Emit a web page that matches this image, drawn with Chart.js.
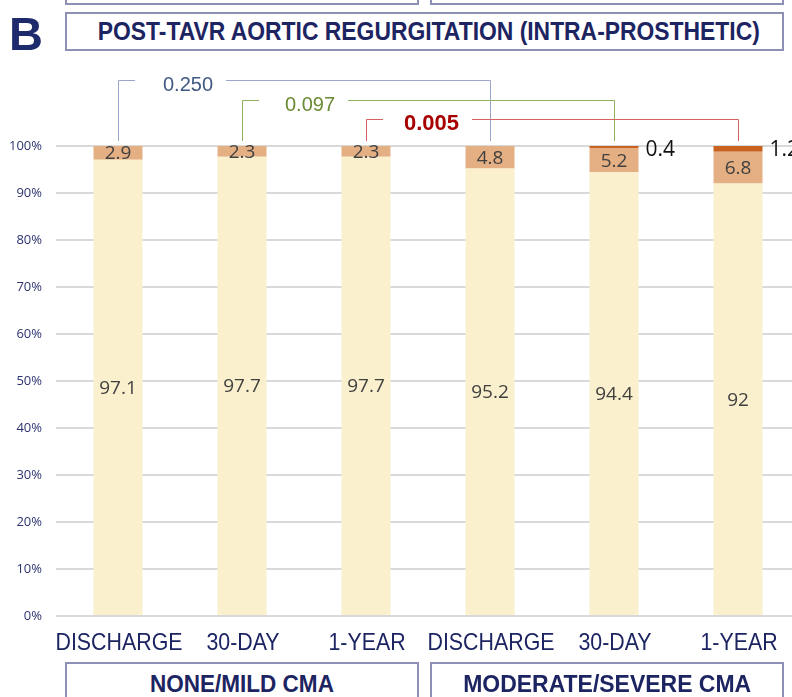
<!DOCTYPE html>
<html>
<head>
<meta charset="utf-8">
<script src="https://cdn.jsdelivr.net/npm/chart.js@4.4.1/dist/chart.umd.min.js"></script>
<style>
  html, body { margin: 0; padding: 0; width: 792px; height: 697px; overflow: hidden; background: #fff; }
  #wrap { position: relative; width: 792px; height: 697px; overflow: hidden; }
  #chartBox { position: absolute; left: 0; top: 0; width: 810px; height: 697px; }
  .box { position: absolute; border: 2px solid #8c91b3; box-sizing: border-box; background: #fff;
         color: #1d2462; font-family: "Liberation Sans", Arial, sans-serif;
         font-weight: bold; text-align: center; white-space: nowrap; overflow: hidden; }
  .box span { display: inline-block; transform-origin: center center; }
  #letter { position: absolute; left: 9px; top: 10px; font-family: "Liberation Sans", Arial, sans-serif;
            font-weight: bold; font-size: 47px; color: #1d2a6c; line-height: 47px; }
</style>
</head>
<body>
<div id="wrap">
  <div id="chartBox"><canvas id="arChart"></canvas></div>
  <div class="box" style="left:65px; top:-30px; width:354px; height:35px;"></div>
  <div class="box" style="left:430px; top:-30px; width:354px; height:35px;"></div>
  <div id="letter">B</div>
  <div class="box" style="left:65px; top:12px; width:719px; height:39px; font-size:25px; line-height:35px;"><span id="title"></span></div>
  <div class="box" style="left:65px; top:662px; width:354px; height:50px; font-size:23px; line-height:40px;"><span id="grp0"></span></div>
  <div class="box" style="left:430px; top:662px; width:354px; height:50px; font-size:23px; line-height:40px;"><span id="grp1"></span></div>
</div>
<script>
// data
const chartTitle = 'POST-TAVR AORTIC REGURGITATION (INTRA-PROSTHETIC)';
const categories = ['DISCHARGE', '30-DAY', '1-YEAR', 'DISCHARGE', '30-DAY', '1-YEAR'];
const groups = ['NONE/MILD CMA', 'MODERATE/SEVERE CMA'];
const noneTrace = [97.1, 97.7, 97.7, 95.2, 94.4, 92];
const mild = [2.9, 2.3, 2.3, 4.8, 5.2, 6.8];
const moderate = [0, 0, 0, 0, 0.4, 1.2];
const yTicks = [0, 10, 20, 30, 40, 50, 60, 70, 80, 90, 100];
const pValues = ['0.250', '0.097', '0.005'];
const pPairs = [[0, 3], [1, 4], [2, 5]];

// squeeze the bold header texts like a narrow font
function fitText(id, text, width) {
    const el = document.getElementById(id);
    el.textContent = text;
    const w = el.getBoundingClientRect().width;
    el.style.transform = 'scaleX(' + (width / w) + ')';
}
fitText('title', chartTitle, 662);
fitText('grp0', groups[0], 184);
fitText('grp1', groups[1], 288);

const NARROW = 0.89;

// category labels, drawn condensed
const xLabels = {
    id: 'xLabels',
    afterDraw(chart) {
        const ctx = chart.ctx;
        const xs = chart.scales.x;
        ctx.save();
        ctx.font = '24px "Liberation Sans", Arial, sans-serif';
        ctx.fillStyle = '#1d2462';
        ctx.textAlign = 'center';
        ctx.textBaseline = 'middle';
        chart.data.labels.forEach((lab, i) => {
            const x = xs.getPixelForValue(i) + 1;
            ctx.save();
            ctx.translate(x, 643);
            ctx.scale(NARROW, 1);
            ctx.fillText(lab, 0, 0);
            ctx.restore();
        });
        ctx.restore();
    }
};

// labels inside / beside the bars
const barLabels = {
    id: 'barLabels',
    afterDatasetsDraw(chart) {
        const ctx = chart.ctx;
        ctx.save();
        chart.data.datasets.forEach((ds, di) => {
            const meta = chart.getDatasetMeta(di);
            meta.data.forEach((bar, i) => {
                const v = ds.data[i];
                if (!v) return;
                if (di < 2) {
                    ctx.font = '19px "Open Sans", sans-serif';
                    ctx.fillStyle = '#404040';
                    ctx.textAlign = 'center';
                    ctx.textBaseline = 'middle';
                    ctx.fillText(String(v), bar.x, (bar.y + bar.base) / 2 + 1);
                } else {
                    ctx.font = '21px "Open Sans", sans-serif';
                    ctx.fillStyle = '#111';
                    ctx.textAlign = 'left';
                    ctx.textBaseline = 'middle';
                    ctx.fillText(String(v), bar.x + bar.width / 2 + 7, 150);
                }
            });
        });
        ctx.restore();
    }
};

// p-value brackets between time points
const bracketStyles = [
    { line: '#9aa6cc', text: '#3f5a82', font: '20px "Liberation Sans", Arial, sans-serif', y: 80, off: 45 },
    { line: '#8fb25e', text: '#6a8a34', font: '20px "Liberation Sans", Arial, sans-serif', y: 100, off: 43 },
    { line: '#d66262', text: '#a80000', font: 'bold 22px "Liberation Sans", Arial, sans-serif', y: 119, off: 38 }
];
const pBrackets = {
    id: 'pBrackets',
    afterDraw(chart) {
        const ctx = chart.ctx;
        const xs = chart.scales.x;
        const bottomY = 141;
        ctx.save();
        pPairs.forEach((pair, k) => {
            const st = bracketStyles[k];
            const x1 = xs.getPixelForValue(pair[0]);
            const x2 = xs.getPixelForValue(pair[1]);
            ctx.font = st.font;
            const tx = x1 + st.off;
            const tw = ctx.measureText(pValues[k]).width;
            ctx.strokeStyle = st.line;
            ctx.lineWidth = 1;
            ctx.beginPath();
            ctx.moveTo(x1 + 0.5, bottomY);
            ctx.lineTo(x1 + 0.5, st.y + 0.5);
            ctx.lineTo(x1 + 17, st.y + 0.5);
            ctx.moveTo(tx + tw + 13, st.y + 0.5);
            ctx.lineTo(x2 + 0.5, st.y + 0.5);
            ctx.lineTo(x2 + 0.5, bottomY);
            ctx.stroke();
            ctx.fillStyle = st.text;
            ctx.textAlign = 'left';
            ctx.textBaseline = 'middle';
            ctx.fillText(pValues[k], tx, st.y + 5);
        });
        ctx.restore();
    }
};

new Chart(document.getElementById('arChart'), {
    type: 'bar',
    data: {
        labels: categories,
        datasets: [
            { label: 'None/Trace', data: noneTrace, backgroundColor: '#fbf0cd' },
            { label: 'Mild', data: mild, backgroundColor: '#e4af82' },
            { label: 'Moderate/Severe', data: moderate, backgroundColor: '#c8621e' }
        ]
    },
    options: {
        responsive: true,
        maintainAspectRatio: false,
        animation: false,
        layout: { padding: { top: 146, right: 10, bottom: 0, left: 0 } },
        datasets: { bar: { categoryPercentage: 1, barPercentage: 0.395 } },
        plugins: {
            legend: { display: false },
            tooltip: { enabled: false }
        },
        scales: {
            x: {
                stacked: true,
                grid: { display: false },
                border: { display: false },
                ticks: { display: false },
                afterFit(scale) { scale.height = 81; }
            },
            y: {
                stacked: true,
                min: 0,
                max: 100,
                afterBuildTicks(scale) { scale.ticks = yTicks.map(v => ({ value: v })); },
                grid: { color: '#d9d9d9', lineWidth: 2, drawTicks: false },
                border: { display: false },
                ticks: {
                    color: '#2c3470',
                    padding: 14,
                    font: { family: '"Open Sans", sans-serif', size: 13 },
                    callback: v => v + '%'
                },
                afterFit(scale) { scale.width = 56; }
            }
        }
    },
    plugins: [barLabels, pBrackets, xLabels]
});
</script>
</body>
</html>
